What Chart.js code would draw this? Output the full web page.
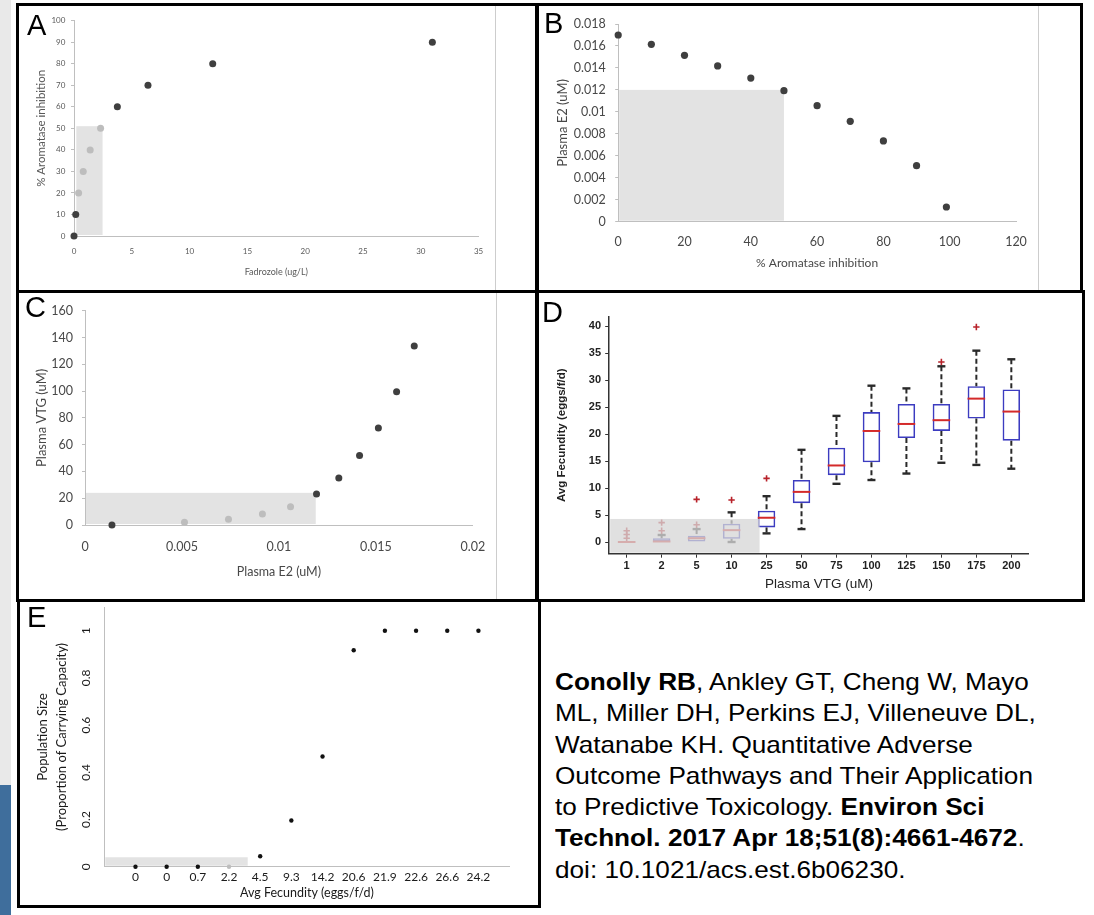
<!DOCTYPE html>
<html>
<head>
<meta charset="utf-8">
<script src="https://cdn.jsdelivr.net/npm/chart.js@4.4.1/dist/chart.umd.min.js"></script>
<style>
html, body { margin: 0; padding: 0; background: #fff; }
#page { position: relative; width: 1094px; height: 915px; overflow: hidden; background: #fff; }
.frame { position: absolute; border: 3px solid #000; box-sizing: border-box; }
.vline { position: absolute; width: 1px; background: #cdcdcd; }
canvas { position: absolute; }
.letter { position: absolute; font-family: "Liberation Sans", Arial, sans-serif; font-size: 29px; line-height: 1; color: #000; }
#ref { position: absolute; left: 555px; top: 666px; font-family: "Liberation Sans", Arial, sans-serif; font-size: 24px; line-height: 31.3px; color: #000; white-space: nowrap; transform: scaleX(1.09); transform-origin: 0 0; }
</style>
</head>
<body>
<div id="page">
  <div style="position:absolute;left:0;top:0;width:11px;height:785px;background:#e9e9e9"></div>
  <div style="position:absolute;left:0;top:785px;width:11px;height:130px;background:#3f6e9c"></div>

  <div class="frame" style="left:16px;top:3px;width:522px;height:290px"></div>
  <div class="frame" style="left:536px;top:3px;width:547px;height:290px"></div>
  <div class="frame" style="left:16px;top:290px;width:522px;height:312px"></div>
  <div class="frame" style="left:536px;top:290px;width:549px;height:312px"></div>
  <div class="frame" style="left:17px;top:599px;width:524px;height:309px"></div>

  <div class="vline" style="left:495px;top:6px;height:284px"></div>
  <div class="vline" style="left:496px;top:293px;height:306px"></div>
  <div class="vline" style="left:1038px;top:6px;height:284px"></div>

  <canvas id="chartA"></canvas>
  <canvas id="chartB"></canvas>
  <canvas id="chartC"></canvas>
  <canvas id="chartD"></canvas>
  <canvas id="chartE"></canvas>

  <div class="letter" style="left:27px;top:11px">A</div>
  <div class="letter" style="left:544px;top:9px">B</div>
  <div class="letter" style="left:25px;top:293px">C</div>
  <div class="letter" style="left:542px;top:298px">D</div>
  <div class="letter" style="left:27px;top:603px">E</div>

  <div id="ref"><b>Conolly RB</b>, Ankley GT, Cheng W, Mayo<br>ML, Miller DH, Perkins EJ, Villeneuve DL,<br>Watanabe KH. Quantitative Adverse<br>Outcome Pathways and Their Application<br>to Predictive Toxicology. <b>Environ Sci</b><br><b>Technol. 2017 Apr 18;51(8):4661-4672</b>.<br>doi: 10.1021/acs.est.6b06230.</div>
</div>

<script>
// A: fadrozole vs aromatase inhibition
const aFadrozole = [0, 0.15, 0.4, 0.8, 1.4, 2.3, 3.75, 6.4, 12, 31];
const aInhibition = [0, 10, 20, 30, 40, 50, 60, 70, 80, 90];
const aXTicks = [0, 5, 10, 15, 20, 25, 30, 35];
const aYTicks = [0, 10, 20, 30, 40, 50, 60, 70, 80, 90, 100];
const aShade = [0.2, 2.47, 0, 51];

// B: aromatase inhibition vs plasma E2
const bInhibition = [0, 10, 20, 30, 40, 50, 60, 70, 80, 90, 99];
const bE2 = [0.0170, 0.01615, 0.01515, 0.01418, 0.01308, 0.01193, 0.01056, 0.00914, 0.00735, 0.0051, 0.00134];
const bXTicks = [0, 20, 40, 60, 80, 100, 120];
const bYTicks = [0, 0.002, 0.004, 0.006, 0.008, 0.01, 0.012, 0.014, 0.016, 0.018];
const bShade = [0, 50, 0, 0.012];

// C: plasma E2 vs plasma VTG
const cE2 = [0.00139, 0.00513, 0.0074, 0.00915, 0.0106, 0.01194, 0.01309, 0.01416, 0.01513, 0.01607, 0.01698];
const cVtg = [0, 2, 4.2, 8.2, 13.7, 23.1, 35.1, 51.8, 72.4, 99.5, 133.6];
const cXTicks = [0, 0.005, 0.01, 0.015, 0.02];
const cYTicks = [0, 20, 40, 60, 80, 100, 120, 140, 160];
const cShade = [0, 0.0119, 0, 24];

// D: fecundity box plots per plasma VTG level
const dVtg = ['1', '2', '5', '10', '25', '50', '75', '100', '125', '150', '175', '200'];
const dMin = [0, 0, 0, 0, 1.6, 2.4, 10.8, 11.5, 12.7, 14.7, 14.3, 13.6];
const dQ1 = [0, 0, 0, 0.6, 2.7, 7.2, 12.4, 14.8, 19.3, 20.6, 22.9, 18.8];
const dMedian = [0, 0.1, 0.7, 2.2, 4.5, 9.3, 14.2, 20.6, 21.9, 22.6, 26.6, 24.2];
const dQ3 = [0, 0.7, 1.15, 3.4, 5.8, 11.5, 17.5, 24.1, 25.6, 25.6, 28.9, 28.3];
const dMax = [0, 1.3, 2.4, 5.5, 8.5, 17.1, 23.4, 29.0, 28.5, 32.6, 35.5, 33.9];
const dOutliers = [[0.7, 1.4, 2.1], [2.1, 3.6], [3.2, 7.9], [7.8], [11.8], [], [], [], [], [33.4], [39.9], []];
const dYTicks = [0, 5, 10, 15, 20, 25, 30, 35, 40];
const dShade = [-0.5, 3.8, -2.17, 4.27];

// E: fecundity vs population size
const eFecundity = ['0', '0', '0.7', '2.2', '4.5', '9.3', '14.2', '20.6', '21.9', '22.6', '26.6', '24.2'];
const ePopulation = [0, 0, 0, 0, 0.044, 0.196, 0.467, 0.917, 1, 1, 1, 1];
const eYTicks = [0, 0.2, 0.4, 0.6, 0.8, 1];
const eShade = [0, 4.6, 0, 0.04];

const LATO = 'Lato, "Open Sans", sans-serif';
const HELV = '"Liberation Sans", Arial, sans-serif';
const AXIS = '#bfbfbf';
const DOT = '#3f3f3f';
const FADED = '#bdbdbd';

const fmt = v => String(parseFloat(Number(v).toFixed(4)));
const half = (size, lh) => size * (lh || 1.2) / 2;

function place(id, box) {
    const c = document.getElementById(id);
    c.width = box.w;
    c.height = box.h;
    c.style.left = box.l + 'px';
    c.style.top = box.t + 'px';
    return c;
}

function fixedTicks(values) {
    return scale => { scale.ticks = values.map(v => ({ value: v })); };
}

function paintShade(chart, rect, color) {
    const { ctx, chartArea, scales: { x, y } } = chart;
    const left = Math.max(x.getPixelForValue(rect[0]), chartArea.left + 1);
    const right = x.getPixelForValue(rect[1]);
    const top = y.getPixelForValue(rect[3]);
    const bottom = Math.min(y.getPixelForValue(rect[2]), chartArea.bottom - 1);
    ctx.save();
    ctx.fillStyle = color;
    ctx.fillRect(left, top, right - left, bottom - top);
    ctx.restore();
}

function textWidth(str, font) {
    const ctx = document.createElement('canvas').getContext('2d');
    ctx.font = font;
    return ctx.measureText(str).width;
}

function scatterPanel(p) {
    const { cv, area } = p;
    const yTickLen = p.yTickLen || 0;
    let yTicks;
    if (p.rotateY) {
        const widest = Math.max(...p.yTicks.map(v => textWidth(fmt(v), p.tick + 'px ' + LATO)));
        yTicks = { crossAlign: 'center', minRotation: 90, maxRotation: 90,
                   padding: area.l - p.yLabelX - yTickLen - widest / 2 };
    } else {
        yTicks = { padding: area.l - p.yLabelX - yTickLen };
    }
    Object.assign(yTicks, { color: p.txt, font: { family: LATO, size: p.tick }, callback: fmt });
    const yTitleLh = p.yTitleLh || 1.2;

    return new Chart(place(p.id, cv), {
        type: 'scatter',
        data: {
            datasets: [{
                data: p.xs.map((x, i) => ({ x: x, y: p.ys[i] })),
                pointRadius: p.radius,
                pointBackgroundColor: p.xs.map((_, i) => p.faded.includes(i) ? FADED : p.dot),
                pointBorderWidth: 0,
                clip: false
            }]
        },
        options: {
            responsive: false,
            animation: false,
            events: [],
            layout: { padding: { left: 0, top: area.t - cv.t, right: cv.l + cv.w - area.r, bottom: 0 } },
            plugins: { legend: { display: false }, tooltip: { enabled: false } },
            scales: {
                x: {
                    type: 'linear', min: p.xRange[0], max: p.xRange[1],
                    afterBuildTicks: fixedTicks(p.xTicks),
                    afterFit: s => { s.height = cv.t + cv.h - area.b; },
                    grid: { drawOnChartArea: false, drawTicks: false },
                    border: { color: AXIS },
                    ticks: {
                        color: p.txt, font: { family: LATO, size: p.tick },
                        padding: p.xLabelY - area.b - half(p.tick),
                        maxRotation: 0, autoSkip: false,
                        callback: p.xFmt || fmt
                    },
                    title: {
                        display: true, text: p.xTitle, color: p.txt,
                        font: { family: LATO, size: p.xTitleSize },
                        padding: { top: 0, bottom: cv.t + cv.h - p.xTitleY - half(p.xTitleSize) }
                    }
                },
                y: {
                    type: 'linear', min: p.yRange[0], max: p.yRange[1],
                    afterBuildTicks: fixedTicks(p.yTicks),
                    afterFit: s => { s.width = area.l - cv.l; },
                    grid: { drawOnChartArea: false, drawTicks: yTickLen > 0, tickLength: yTickLen, color: AXIS },
                    border: { color: AXIS },
                    ticks: yTicks,
                    title: {
                        display: true, text: p.yTitle, color: p.txt,
                        font: { family: LATO, size: p.yTitleSize, lineHeight: yTitleLh },
                        padding: { top: p.yTitleX - cv.l - half(p.yTitleSize, yTitleLh), bottom: 0 }
                    }
                }
            }
        },
        plugins: [{ id: 'shade', beforeDraw: chart => paintShade(chart, p.shade, '#e3e3e3') }]
    });
}

scatterPanel({
    id: 'chartA', cv: { l: 20, t: 7, w: 515, h: 282 }, area: { l: 74, t: 20.7, r: 478.6, b: 236 },
    xs: aFadrozole, ys: aInhibition, faded: [2, 3, 4, 5], dot: DOT, radius: 3.5,
    xRange: [0, 35], yRange: [0, 100], xTicks: aXTicks, yTicks: aYTicks, shade: aShade,
    txt: '#595959', tick: 8, yTickLen: 3,
    xLabelY: 251, xTitle: 'Fadrozole (ug/L)', xTitleSize: 9, xTitleY: 272,
    yLabelX: 65.4, yTitle: '% Aromatase inhibition', yTitleSize: 11.5, yTitleX: 41
});

scatterPanel({
    id: 'chartB', cv: { l: 540, t: 7, w: 539, h: 282 }, area: { l: 618.2, t: 24, r: 1016, b: 221.7 },
    xs: bInhibition, ys: bE2, faded: [], dot: DOT, radius: 3.6,
    xRange: [0, 120], yRange: [0, 0.018], xTicks: bXTicks, yTicks: bYTicks, shade: bShade,
    txt: '#484848', tick: 12.5, yTickLen: 3,
    xLabelY: 242.3, xTitle: '% Aromatase inhibition', xTitleSize: 12, xTitleY: 262.7,
    yLabelX: 605.7, yTitle: 'Plasma E2 (uM)', yTitleSize: 13, yTitleX: 563
});

scatterPanel({
    id: 'chartC', cv: { l: 20, t: 294, w: 514, h: 304 }, area: { l: 85, t: 310.7, r: 472.8, b: 525 },
    xs: cE2, ys: cVtg, faded: [1, 2, 3, 4], dot: DOT, radius: 3.5,
    xRange: [0, 0.02], yRange: [0, 160], xTicks: cXTicks, yTicks: cYTicks, shade: cShade,
    txt: '#484848', tick: 12.5, yTickLen: 3,
    xLabelY: 547, xTitle: 'Plasma E2 (uM)', xTitleSize: 12.5, xTitleY: 572,
    yLabelX: 73, yTitle: 'Plasma VTG (uM)', yTitleSize: 13, yTitleX: 42
});

scatterPanel({
    id: 'chartE', cv: { l: 21, t: 590, w: 516, h: 314 }, area: { l: 104.3, t: 606.7, r: 509.6, b: 866.7 },
    xs: eFecundity.map((_, i) => i + 1), ys: ePopulation, faded: [3], dot: '#111', radius: 2.2,
    xRange: [0, 13], yRange: [0, 1.1], xTicks: eFecundity.map((_, i) => i + 1), yTicks: eYTicks, shade: eShade,
    txt: '#1a1a1a', tick: 12, rotateY: true,
    xLabelY: 876.7, xTitle: 'Avg Fecundity (eggs/f/d)', xTitleSize: 12.5, xTitleY: 892.7,
    xFmt: v => eFecundity[v - 1] || '',
    yLabelX: 86, yTitle: ['Population Size', '(Proportion of Carrying Capacity)'], yTitleSize: 13,
    yTitleLh: 1.45, yTitleX: 43
});

// D: box plots
(function () {
    const cv = { l: 540, t: 294, w: 541, h: 304 };
    const area = { l: 609.2, t: 316.7, r: 1028.8, b: 553.7 };
    const tick = 11, tl = 4;
    const capsHigh = dMax.map((v, i) => v > dQ3[i] ? v : null);
    const capsLow = dMin.map((v, i) => v < dQ1[i] ? v : null);
    const outlierPoints = [];
    dOutliers.forEach((list, i) => list.forEach(v => outlierPoints.push({ x: dVtg[i], y: v })));

    const whiskers = {
        id: 'whiskers',
        afterDatasetsDraw(chart) {
            const { ctx, scales: { x, y } } = chart;
            ctx.save();
            ctx.strokeStyle = '#2a2a2a';
            ctx.lineWidth = 2;
            ctx.setLineDash([5, 3]);
            dVtg.forEach((_, i) => {
                const px = x.getPixelForValue(i);
                if (dMax[i] > dQ3[i]) {
                    ctx.beginPath();
                    ctx.moveTo(px, y.getPixelForValue(dMax[i]));
                    ctx.lineTo(px, y.getPixelForValue(dQ3[i]));
                    ctx.stroke();
                }
                if (dMin[i] < dQ1[i]) {
                    ctx.beginPath();
                    ctx.moveTo(px, y.getPixelForValue(dQ1[i]));
                    ctx.lineTo(px, y.getPixelForValue(dMin[i]));
                    ctx.stroke();
                }
            });
            ctx.restore();
            paintShade(chart, dShade, 'rgba(214,214,214,0.76)');
        }
    };

    new Chart(place('chartD', cv), {
        type: 'bar',
        data: {
            labels: dVtg,
            datasets: [
                { type: 'line', data: dMedian, showLine: false, pointStyle: 'line', pointRadius: 8.8,
                  pointBorderColor: '#d42a2a', pointBorderWidth: 2, clip: false },
                { type: 'line', data: capsHigh, showLine: false, pointStyle: 'line', pointRadius: 4,
                  pointBorderColor: '#2a2a2a', pointBorderWidth: 2.4, clip: false },
                { type: 'line', data: capsLow, showLine: false, pointStyle: 'line', pointRadius: 4,
                  pointBorderColor: '#2a2a2a', pointBorderWidth: 2.4, clip: false },
                { type: 'line', data: outlierPoints, showLine: false, pointStyle: 'cross', pointRadius: 3.2,
                  pointBorderColor: '#b8222a', pointBorderWidth: 1.6, clip: false },
                { type: 'bar', data: dQ1.map((q, i) => [q, dQ3[i]]), backgroundColor: 'rgba(255,255,255,0)',
                  borderColor: '#3c3cc0', borderWidth: 1.6, borderSkipped: false,
                  barPercentage: 0.5, categoryPercentage: 1 }
            ]
        },
        options: {
            responsive: false,
            animation: false,
            events: [],
            layout: { padding: { left: 0, top: area.t - cv.t, right: cv.l + cv.w - area.r, bottom: 0 } },
            plugins: { legend: { display: false }, tooltip: { enabled: false } },
            scales: {
                x: {
                    type: 'category', offset: true,
                    afterFit: s => { s.height = cv.t + cv.h - area.b; },
                    grid: { offset: false, drawOnChartArea: false, tickLength: tl, color: '#333' },
                    border: { color: '#333', width: 1.5 },
                    ticks: { color: '#222', font: { family: HELV, size: tick, weight: 'bold' },
                             padding: 566 - area.b - tl - half(tick), maxRotation: 0, autoSkip: false },
                    title: { display: true, text: 'Plasma VTG (uM)', color: '#222',
                             font: { family: HELV, size: 13.5 },
                             padding: { top: 0, bottom: cv.t + cv.h - 584.3 - half(13.5) } }
                },
                y: {
                    type: 'linear', min: -2.17, max: 41.8,
                    afterBuildTicks: fixedTicks(dYTicks),
                    afterFit: s => { s.width = area.l - cv.l; },
                    grid: { drawOnChartArea: false, tickLength: tl, color: '#333' },
                    border: { color: '#333', width: 1.5 },
                    ticks: { color: '#222', font: { family: HELV, size: tick, weight: 'bold' },
                             padding: area.l - 601 - tl, callback: fmt },
                    title: { display: true, text: 'Avg Fecundity (eggs/f/d)', color: '#222',
                             font: { family: HELV, size: 11.5, weight: 'bold' },
                             padding: { top: 561.7 - cv.l - half(11.5), bottom: 0 } }
                }
            }
        },
        plugins: [whiskers]
    });
})();
</script>
</body>
</html>
